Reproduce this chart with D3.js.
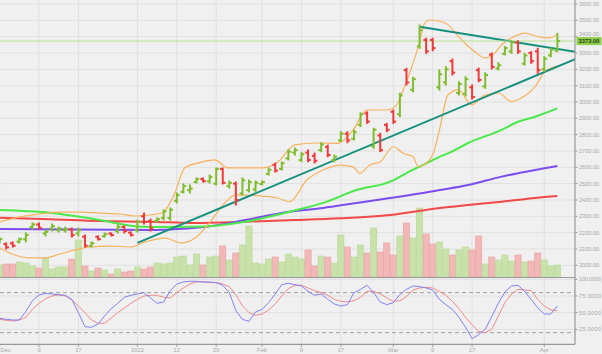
<!DOCTYPE html>
<html><head><meta charset="utf-8">
<script src="https://cdn.jsdelivr.net/npm/d3@7"></script>
<style>body{margin:0;background:#f0f0f0} svg{display:block;font-family:"Liberation Sans",Arial,sans-serif}</style>
</head><body><svg id="c" width="602" height="354"></svg>
<script>
const opens=[2145,2130,2135,2145,2160,2235,2250,2195,2225,2215,2215,2220,2195,2175,2118,2175,2178,2195,2210,2235,2200,2215,2300,2270,2272,2290,2290,2395,2450,2460,2510,2528,2515,2500,2590,2485,2500,2440,2460,2465,2498,2560,2615,2590,2655,2690,2645,2690,2670,2705,2725,2645,2765,2805,2775,2860,2930,2730,2795,2860,2940,2925,3195,3075,3340,3380,3380,3090,3120,3250,3055,3050,3090,3195,3095,3290,3205,3295,3310,3365,3235,3300,3310,3200,3285,3315];
const highs=[2167,2137,2143,2167,2198,2259,2259,2216,2253,2234,2234,2228,2228,2186,2143,2180,2198,2198,2247,2241,2204,2277,2320,2283,2290,2339,2351,2443,2498,2492,2535,2535,2553,2596,2596,2516,2510,2535,2522,2516,2516,2596,2626,2633,2706,2718,2690,2706,2687,2751,2736,2675,2818,2818,2828,2934,2940,2839,2808,2869,2951,3053,3206,3151,3471,3390,3390,3196,3216,3263,3124,3155,3104,3208,3179,3300,3241,3339,3375,3375,3298,3308,3329,3277,3329,3420];
const lows=[2137,2100,2112,2137,2143,2222,2222,2180,2210,2204,2204,2173,2180,2112,2112,2155,2173,2180,2198,2198,2180,2204,2253,2210,2265,2277,2277,2382,2443,2443,2504,2510,2504,2492,2498,2473,2369,2430,2449,2449,2492,2553,2571,2584,2645,2675,2634,2634,2626,2696,2665,2634,2757,2751,2767,2849,2869,2716,2696,2818,2869,2910,3104,3063,3329,3298,3314,3073,3104,3165,3043,3037,3018,3124,3084,3202,3196,3288,3298,3298,3226,3237,3176,3186,3277,3308];
const closes=[2160,2110,2120,2160,2185,2250,2230,2205,2240,2225,2222,2185,2215,2120,2135,2160,2190,2185,2235,2210,2185,2265,2265,2225,2282,2330,2340,2430,2485,2470,2528,2515,2540,2590,2505,2505,2400,2520,2510,2505,2510,2585,2580,2625,2695,2705,2680,2645,2640,2740,2675,2665,2805,2765,2815,2925,2880,2830,2705,2830,2880,3040,3120,3140,3440,3310,3330,3170,3200,3180,3110,3140,3030,3135,3165,3215,3225,3330,3365,3310,3285,3250,3195,3265,3320,3373];
const volumes=[12,13,13,15,14,11,9,19,8,10,10,18,37,11,6,9,7,3,8,5,6,10,8,10,14,13,14,20,21,12,23,12,20,21,31,17,24,32,51,14,13,18,20,15,23,20,18,27,11,21,20,14,42,30,20,32,24,49,25,34,22,41,54,39,69,43,33,35,28,22,27,30,27,41,13,20,17,22,16,22,15,16,24,17,11,12];
const stochK=[41.5,40,39,39,52,68,76.5,79,78,77,76,70,50,29,28,33,45,56,64,73,76,78,80,72,64,66,83,93,96,97,97,96,96,95,91,80,53,40,37,51,55,65,78,92,94,92,90,82,76,78,70,63,60,62,80,85,91,80,66,62,65,77,85,90,89,87,84,70,62,55,43,28,11,17,25,44,64,81,90,91,82,70,57,48,48,60];
const stochD=[40,38.5,37.5,39,43,55,64,71,75,76.5,75,69,60,50,39,34,34,42,50,57,64,70,75,76,76,73,72,80,87,93,96,96,95,95,93,89,77,60,50,46,48,54,63,75,86,91,91,87,83,80,76,70,67,66,68,73,82,82,78,72,67,68,74,84,87,88,87,82,76,67,56,43,32,22,20,25,45,65,78,85,84,83,70,60,54,53];
const bbUpper=[[0,2265],[3.1,2296],[6.2,2314],[9.2,2326],[12.3,2326],[15.3,2320],[18.3,2314],[20.6,2302],[22.9,2308],[24.7,2320],[26.7,2443],[28.2,2596],[30.2,2626],[32.8,2645],[34.8,2596],[37.4,2596],[40,2596],[42.4,2633],[45,2737],[48.3,2749],[51.4,2747],[53.9,2829],[55.9,2951],[59,2951],[60.5,2982],[61.5,3074],[62.5,3178],[63.8,3339],[64.8,3484],[65.6,3502],[67.9,3484],[70.4,3380],[72.4,3308],[74,3270],[75,3282],[76.5,3349],[78,3392],[80.1,3422],[82,3400],[83.6,3392],[85,3410]];
const bbLower=[[0,2106],[2.3,2063],[4.6,2045],[6.9,2045],[9.2,2069],[11.5,2094],[13.8,2112],[16.8,2118],[19.9,2112],[22.2,2143],[25.2,2167],[27.7,2137],[29.8,2167],[32.3,2277],[34.3,2382],[35.9,2430],[37.4,2430],[39.9,2424],[42.4,2412],[44.2,2389],[46.8,2522],[49.3,2584],[51.9,2614],[53.8,2604],[54.9,2563],[56.4,2614],[58,2634],[60,2726],[61.5,2686],[63,2665],[63.8,2604],[64.6,2614],[66.1,2686],[67.1,2841],[68.3,3043],[69.9,3074],[71.9,2982],[74,3043],[76,3055],[78,3002],[79.5,3024],[81.6,3094],[83.1,3186],[84.6,3216],[85,3220]];
const maFast=[[0,2339],[7.7,2322],[15.3,2277],[20.3,2241],[22.9,2235],[29.8,2236],[37.4,2267],[44.2,2328],[49.3,2382],[54.4,2461],[59.5,2512],[62,2565],[64.5,2614],[67.1,2665],[68.9,2696],[71.4,2749],[76.5,2829],[79,2879],[81.6,2910],[85,2961]];
const maMid=[[0,2222],[22.9,2216],[27.2,2222],[32.3,2241],[37.4,2277],[44.2,2328],[49.3,2351],[54.4,2382],[59.5,2412],[64.5,2443],[67.1,2461],[71.4,2492],[76.5,2543],[81.6,2584],[85,2608]];
const maSlow=[[0,2291],[7.7,2282],[15.3,2271],[22.9,2267],[29.8,2259],[37.4,2267],[45,2277],[51.9,2288],[59.5,2308],[67.1,2351],[71.4,2369],[76.5,2389],[81.6,2412],[85,2424]];
const trendUp=[[21,2137],[87.7,3262]];
const trendDown=[[64,3461],[87.7,3308]];
const lastPrice=3373;
const priceTicks=[2000,2100,2200,2300,2400,2500,2600,2700,2800,2900,3000,3100,3200,3300,3400,3500,3600];
const oscTicks=[25,50,75,100];
const oscBands=[20,80];
const dateTickIdx=[0,6,12,21,27,33,40,46,52,60,66,72,83];
const dateTickLabels=["Dec","9","17","2022","12","20","Feb","9","17","Mar","9","17","Apr"];

const svg=d3.select("#c");
const W=602,H=354,plotR=575,sepY=277.5,botY=344.3;
const x=d3.scaleLinear().domain([0,85]).range([-0.37,557.4]);
const y=d3.scaleLinear().domain([2000,3600]).range([265.3,4.0]);
const yv=d3.scaleLinear().domain([0,100]).range([277,177]);
const yo=d3.scaleLinear().domain([0,100]).range([346,279.3]);

svg.append("rect").attr("width",W).attr("height",H).attr("fill","#f0f0f0");
const defs=svg.append("defs");
defs.append("clipPath").attr("id","cp").append("rect").attr("x",0).attr("y",0).attr("width",plotR).attr("height",sepY);
defs.append("clipPath").attr("id","co").append("rect").attr("x",0).attr("y",sepY).attr("width",plotR).attr("height",botY-sepY);

// grid
const grid=svg.append("g");
grid.selectAll(".hg").data(priceTicks).enter().append("line")
  .attr("x1",0).attr("x2",plotR).attr("y1",d=>y(d)).attr("y2",d=>y(d))
  .attr("stroke","#e0e0e0").attr("stroke-width",1);
grid.selectAll(".og").data(oscTicks).enter().append("line")
  .attr("x1",0).attr("x2",plotR).attr("y1",d=>yo(d)).attr("y2",d=>yo(d))
  .attr("stroke","#e0e0e0").attr("stroke-width",1);
grid.selectAll(".vg").data(dateTickIdx).enter().append("line")
  .attr("x1",d=>x(d)).attr("x2",d=>x(d)).attr("y1",0).attr("y2",botY)
  .attr("stroke","#e0e0e0").attr("stroke-width",1);

const pg=svg.append("g").attr("clip-path","url(#cp)");
// volume
const idx=d3.range(opens.length);
pg.selectAll(".vol").data(idx).enter().append("rect")
  .attr("x",i=>x(i)-3.1).attr("width",6.2)
  .attr("y",i=>yv(volumes[i])).attr("height",i=>yv(0)-yv(volumes[i]))
  .attr("fill",i=>closes[i]>=opens[i]?"#c9e2ab":"#f2b8b8")
  .attr("stroke",i=>closes[i]>=opens[i]?"#b6d994":"#eaa0a0").attr("stroke-width",0.6);

const line=d3.line().x(d=>x(d[0])).y(d=>y(d[1])).curve(d3.curveMonotoneX);
function addLine(data,color,w){pg.append("path").attr("d",line(data)).attr("fill","none").attr("stroke",color).attr("stroke-width",w);}
addLine(maSlow,"#f24848",2);
addLine(maMid,"#7d4cf0",2);
addLine(maFast,"#4ae84a",2);
addLine(bbUpper,"#f8b25c",1.2);
addLine(bbLower,"#f8b25c",1.2);
const sline=d3.line().x(d=>x(d[0])).y(d=>y(d[1]));
pg.append("path").attr("d",sline(trendUp)).attr("stroke","#15907e").attr("stroke-width",2).attr("fill","none");
pg.append("path").attr("d",sline(trendDown)).attr("stroke","#15907e").attr("stroke-width",2).attr("fill","none");
pg.append("line").attr("x1",0).attr("x2",plotR).attr("y1",y(lastPrice)).attr("y2",y(lastPrice))
  .attr("stroke","#b9e28e").attr("stroke-width",1);

// OHLC bars
const bars=pg.selectAll(".bar").data(idx).enter().append("g")
  .attr("stroke",i=>closes[i]>=opens[i]?"#7fbd2f":"#f03a3a").attr("stroke-width",2);
bars.append("line").attr("x1",i=>x(i)).attr("x2",i=>x(i)).attr("y1",i=>y(highs[i])-0.5).attr("y2",i=>y(lows[i])+0.5);
bars.append("line").attr("x1",i=>x(i)-2.8).attr("x2",i=>x(i)).attr("y1",i=>y(opens[i])).attr("y2",i=>y(opens[i]));
bars.append("line").attr("x1",i=>x(i)).attr("x2",i=>x(i)+2.8).attr("y1",i=>y(closes[i])).attr("y2",i=>y(closes[i]));

// oscillator
const og=svg.append("g").attr("clip-path","url(#co)");
og.selectAll(".ob").data(oscBands).enter().append("line")
  .attr("x1",0).attr("x2",plotR).attr("y1",d=>yo(d)).attr("y2",d=>yo(d))
  .attr("stroke","#a0a0a0").attr("stroke-width",1).attr("stroke-dasharray","4,3");
const oline=d3.line().x((d,i)=>x(i)).y(d=>yo(d));
og.append("path").attr("d",oline(stochD)).attr("fill","none").attr("stroke","#f08a8a").attr("stroke-width",1);
og.append("path").attr("d",oline(stochK)).attr("fill","none").attr("stroke","#8080f4").attr("stroke-width",1);

// frame
svg.append("line").attr("x1",plotR).attr("x2",plotR).attr("y1",0).attr("y2",botY).attr("stroke","#999").attr("stroke-width",1.2);
svg.append("line").attr("x1",0).attr("x2",plotR).attr("y1",sepY).attr("y2",sepY).attr("stroke","#999").attr("stroke-width",1.2);
svg.append("line").attr("x1",0).attr("x2",plotR).attr("y1",botY).attr("y2",botY).attr("stroke","#999").attr("stroke-width",1.2);

// right axis
const ax=svg.append("g").attr("font-size",5.6).attr("fill","#a8a8a8");
ax.selectAll(".pt").data(priceTicks.filter(d=>Math.abs(y(d)-y(lastPrice))>6)).enter().append("text")
  .attr("x",579).attr("y",d=>y(d)+2).text(d=>d.toFixed(2));
ax.selectAll(".pk").data(priceTicks).enter().append("line")
  .attr("x1",plotR).attr("x2",plotR+2.5).attr("y1",d=>y(d)).attr("y2",d=>y(d)).attr("stroke","#999");
ax.selectAll(".ot").data(oscTicks).enter().append("text")
  .attr("x",579).attr("y",d=>yo(d)+2).attr("textLength",22).text(d=>d.toFixed(4));
ax.selectAll(".ok").data(oscTicks).enter().append("line")
  .attr("x1",plotR).attr("x2",plotR+2.5).attr("y1",d=>yo(d)).attr("y2",d=>yo(d)).attr("stroke","#999");
// last price label
svg.append("text").attr("x",579).attr("y",y(3400)-1).attr("font-size",5.6).attr("fill","#a8a8a8").text((3400).toFixed(2));
svg.append("rect").attr("x",576.5).attr("y",y(lastPrice)-4).attr("width",25).attr("height",8).attr("fill","#8fd04a");
svg.append("text").attr("x",589).attr("y",y(lastPrice)+2).attr("text-anchor","middle")
  .attr("font-size",5.8).attr("font-weight","bold").attr("fill","#2a3a1a").text(lastPrice.toFixed(2));

// date axis
const dx=svg.append("g").attr("font-size",5.8).attr("fill","#a8a8a8");
dx.selectAll(".dt").data(dateTickIdx).enter().append("text")
  .attr("x",d=>Math.max(x(d),0.5)).attr("y",351.5).attr("text-anchor",(d,i)=>i===0?"start":"middle")
  .text((d,i)=>dateTickLabels[i]);
dx.selectAll(".dk").data(dateTickIdx).enter().append("line")
  .attr("x1",d=>x(d)).attr("x2",d=>x(d)).attr("y1",botY).attr("y2",botY+2.5).attr("stroke","#999");
</script></body></html>
